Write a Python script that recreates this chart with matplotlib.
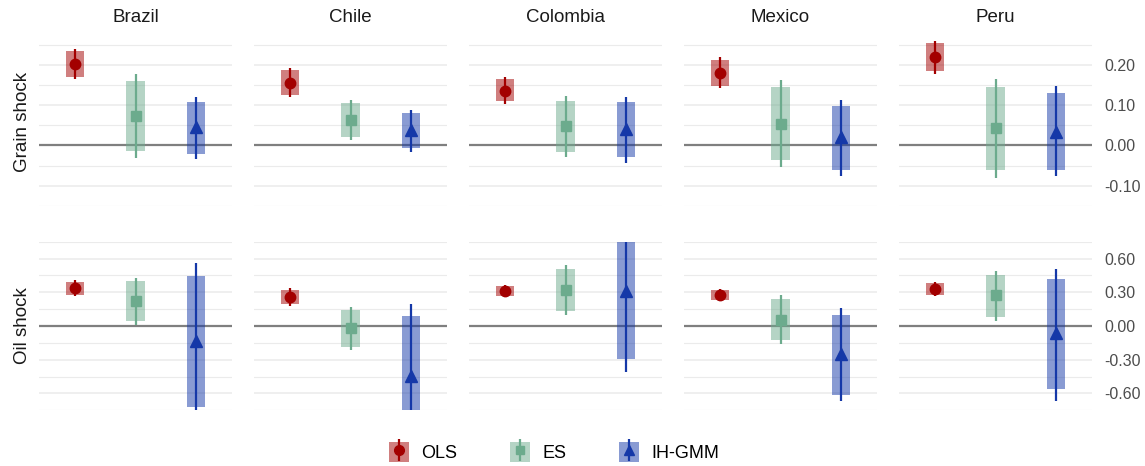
import numpy as np
import matplotlib
matplotlib.use("Agg")
import matplotlib.pyplot as plt
from matplotlib.patches import Patch
from matplotlib.lines import Line2D
from matplotlib.legend_handler import HandlerTuple

plt.rcParams['font.family'] = ['Liberation Sans', 'DejaVu Sans']

countries = ["Brazil", "Chile", "Colombia", "Mexico", "Peru"]
methods = ["OLS", "ES", "IH-GMM"]
shocks = ["Grain shock", "Oil shock"]

# per country: [OLS, ES, IH-GMM]
grain_est = [[0.203, 0.073, 0.045], [0.155, 0.063, 0.039], [0.136, 0.047, 0.041],
             [0.180, 0.054, 0.020], [0.219, 0.043, 0.033]]
grain_box_lo = [[0.170, -0.014, -0.021], [0.125, 0.020, -0.007], [0.109, -0.016, -0.029],
                [0.148, -0.037, -0.061], [0.184, -0.060, -0.060]]
grain_box_hi = [[0.234, 0.161, 0.107], [0.186, 0.104, 0.081], [0.164, 0.109, 0.108],
                [0.213, 0.145, 0.097], [0.254, 0.145, 0.129]]
grain_ci_lo = [[0.165, -0.032, -0.033], [0.119, 0.013, -0.016], [0.103, -0.028, -0.043],
               [0.142, -0.054, -0.076], [0.177, -0.080, -0.077]]
grain_ci_hi = [[0.239, 0.177, 0.119], [0.192, 0.112, 0.087], [0.170, 0.122, 0.121],
               [0.219, 0.163, 0.113], [0.260, 0.165, 0.147]]

oil_est = [[0.337, 0.222, -0.136], [0.261, -0.018, -0.449], [0.313, 0.321, 0.313],
           [0.279, 0.057, -0.253], [0.329, 0.272, -0.063]]
oil_box_lo = [[0.277, 0.045, -0.72], [0.196, -0.183, -0.98], [0.269, 0.131, -0.29],
              [0.232, -0.123, -0.611], [0.277, 0.084, -0.561]]
oil_box_hi = [[0.394, 0.397, 0.446], [0.319, 0.141, 0.086], [0.355, 0.507, 0.92],
              [0.319, 0.237, 0.094], [0.381, 0.452, 0.418]]
oil_ci_lo = [[0.264, 0.008, -0.83], [0.178, -0.217, -1.09], [0.258, 0.094, -0.405],
             [0.225, -0.159, -0.67], [0.266, 0.047, -0.67]]
oil_ci_hi = [[0.410, 0.431, 0.561], [0.337, 0.172, 0.193], [0.366, 0.543, 1.03],
             [0.329, 0.274, 0.162], [0.392, 0.491, 0.511]]

colors = ["#A30000", "#6CAB8D", "#1538A8"]
markers = ["o", "s", "^"]
msizes = [7.5, 6.5, 8]

rows = [
    (grain_est, grain_box_lo, grain_box_hi, grain_ci_lo, grain_ci_hi,
     (-0.1175, 0.2675), [-0.10, 0.00, 0.10, 0.20], 0.05),
    (oil_est, oil_box_lo, oil_box_hi, oil_ci_lo, oil_ci_hi,
     (-0.66, 0.66), [-0.60, -0.30, 0.00, 0.30, 0.60], 0.15),
]

W, H = 1145, 466
fig = plt.figure(figsize=(W / 100, H / 100), dpi=100)

panel_x = [39, 254, 469, 684, 899]
panel_w = 193
row_y = [(37.6, 205.8), (241.7, 410.3)]

x = np.arange(1, 4)
for r, (est, blo, bhi, clo, chi, ylim, ticks, mstep) in enumerate(rows):
    y0, y1 = row_y[r]
    for c, country in enumerate(countries):
        ax = fig.add_axes([panel_x[c] / W, 1 - y1 / H, panel_w / W, (y1 - y0) / H])
        ax.set_xlim(0.4, 3.6)
        ax.set_ylim(*ylim)
        ax.set_yticks(ticks)
        minors = np.arange(ticks[0] - mstep, ticks[-1] + mstep * 1.01, mstep * 2)
        ax.set_yticks(minors, minor=True)
        ax.grid(True, which='major', axis='y', color='#ebebeb', lw=1.1, zorder=0)
        ax.grid(True, which='minor', axis='y', color='#ebebeb', lw=0.8, zorder=0)
        ax.set_xticks([])
        for s in ax.spines.values():
            s.set_visible(False)
        ax.tick_params(axis='y', which='both', length=0, labelleft=False)
        ax.axhline(0, color='#7f7f7f', lw=1.6, zorder=1.9)
        lo = np.array(blo[c])
        hi = np.array(bhi[c])
        ax.bar(x, hi - lo, bottom=lo, width=0.3, color=colors, alpha=0.5, zorder=2)
        ax.vlines(x, clo[c], chi[c], colors=colors, lw=1.6, zorder=3)
        for k in range(3):
            ax.plot(x[k], est[c][k], marker=markers[k], ms=msizes[k], color=colors[k],
                    ls='none', zorder=4)
        if r == 0:
            ax.set_title(country, fontsize=13.5, color='#1a1a1a', pad=11)
        if c == 0:
            ax.set_ylabel(shocks[r], fontsize=13.5, color='#1a1a1a', labelpad=6)
        if c == len(countries) - 1:
            ax.yaxis.tick_right()
            ax.tick_params(axis='y', which='both', length=0, labelright=True, pad=9,
                           labelsize=11.5, labelcolor='#4d4d4d')
            ax.set_yticklabels([f"{t:.2f}" for t in ticks])

handles = []
for k in range(3):
    handles.append((
        Patch(facecolor=colors[k], alpha=0.5, edgecolor='none'),
        Line2D([], [], marker='|', ms=16, mew=1.6, color=colors[k], ls='none'),
        Line2D([], [], marker=markers[k], ms=msizes[k] - 0.5, color=colors[k], ls='none'),
    ))
fig.legend(handles, methods, handler_map={tuple: HandlerTuple(ndivide=1, pad=0)},
           loc='center', bbox_to_anchor=(554 / W, 1 - 452 / H), ncol=3, frameon=False,
           fontsize=13, handlelength=1.1, handleheight=1.3, handletextpad=0.7,
           columnspacing=2.9)

fig.savefig("out.png", dpi=100, facecolor='white')
